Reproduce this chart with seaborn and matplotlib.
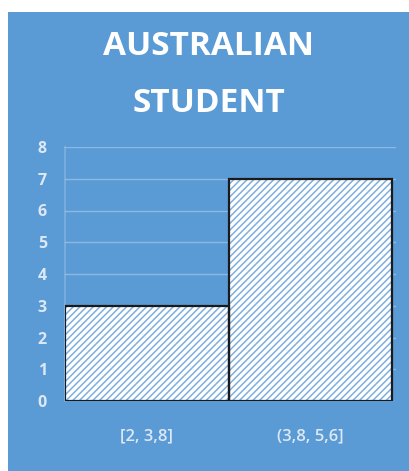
import matplotlib
matplotlib.use("Agg")
import matplotlib.pyplot as plt
import seaborn as sns
import pandas as pd

categories = ["[2, 3,8]", "(3,8, 5,6]"]
counts = [3, 7]
yticks = [0, 1, 2, 3, 4, 5, 6, 7, 8]
title_lines = ["AUSTRALIAN", "STUDENT"]

BLUE = "#5B9BD5"
HATCH = "#7FAFDF"
LIGHT = "#DDE8F5"

sns.set_theme(style="white")
plt.rcParams["font.family"] = ["Open Sans", "DejaVu Sans"]
plt.rcParams["hatch.linewidth"] = 1.1

fig = plt.figure(figsize=(4.10, 4.71), dpi=100)
fig.patch.set_facecolor("white")
bg = fig.add_axes([8 / 410, 0, 1 - 8 / 410, (471 - 12) / 471], zorder=-5)
bg.set_facecolor(BLUE)
bg.set_xticks([])
bg.set_yticks([])
for s in bg.spines.values():
    s.set_visible(False)

ax = fig.add_axes([65 / 410, 1 - 401 / 471, (396 - 65) / 410, (401 - 147) / 471], zorder=1)
ax.set_facecolor("none")

df = pd.DataFrame({"cat": categories, "count": counts})
sns.barplot(data=df, x="cat", y="count", ax=ax, width=1.0, color="white",
            saturation=1, edgecolor=HATCH, linewidth=0, zorder=2)
for p in ax.patches:
    p.set_facecolor("white")
    p.set_edgecolor(HATCH)
    p.set_hatch("/////")
    p.set_linewidth(0)
sns.barplot(data=df, x="cat", y="count", ax=ax, width=1.0, fill=False,
            edgecolor="#1a1a1a", linewidth=1.6, zorder=3)

ax.set_ylim(0, 8)
ax.set_xlim(-0.5, 1.524)
ax.set_yticks(yticks)
ax.set_yticklabels([str(v) for v in yticks])
ax.yaxis.grid(True, color="white", alpha=0.3, linewidth=1)
ax.set_axisbelow(True)
for s in ax.spines.values():
    s.set_visible(False)
ax.spines["left"].set_visible(True)
ax.spines["left"].set_color((1, 1, 1, 0.2))
ax.tick_params(axis="y", colors=LIGHT, labelsize=11.5, length=0, pad=13)
ax.tick_params(axis="x", colors=LIGHT, labelsize=12, length=0, pad=20)
for t in ax.get_yticklabels():
    t.set_fontweight("bold")
for t in ax.get_xticklabels():
    t.set_fontweight("semibold")
ax.set_xlabel("")
ax.set_ylabel("")

fig.text(209 / 410, 1 - 55 / 471, title_lines[0], ha="center", va="baseline",
         fontsize=24, fontweight="bold", color="white")
fig.text(209 / 410, 1 - 112 / 471, title_lines[1], ha="center", va="baseline",
         fontsize=24, fontweight="bold", color="white")

fig.savefig("out.png", dpi=100)
